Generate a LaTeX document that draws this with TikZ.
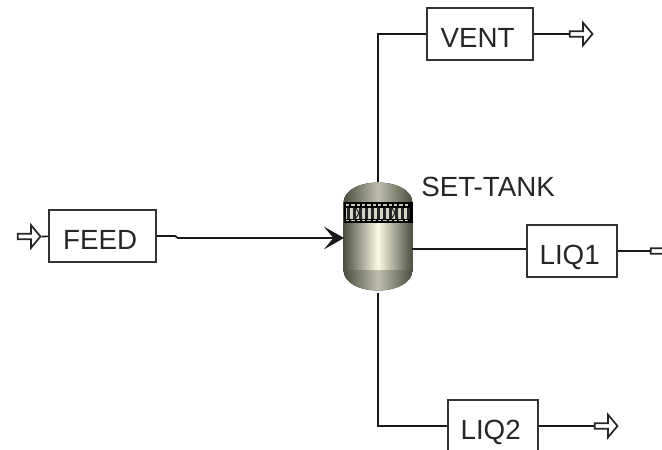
\documentclass[tikz,border=0pt]{standalone}
\usepackage{fontspec}
\setmainfont{Liberation Sans}
\usetikzlibrary{arrows.meta,shapes.arrows}
\definecolor{tankdark}{RGB}{78,78,62}
\definecolor{tanklight}{RGB}{250,250,230}

\begin{document}
\begin{tikzpicture}[
        x=0.75pt,
        y=-0.75pt,
        font=\fontsize{20.8}{24}\selectfont,
        label/.style={draw=black!80, line width=1.4pt, fill=white, inner sep=0pt, text=black!85,
            text height=20pt, text depth=0pt, execute at end node=\hspace{3.5pt}},
        stream/.style={black!90, line width=1.3pt},
        port/.style={single arrow, draw=black!85, line width=1.3pt, fill=white, inner sep=0pt,
            minimum width=17pt, minimum height=17pt, single arrow head extend=2pt, single arrow tip angle=100},
        shell/.style={left color=tankdark, right color=tankdark, middle color=tanklight, draw=none},
        dome/.style={left color=tankdark, right color=tankdark, middle color=tanklight!65!tankdark, draw=none}
    ]
        \useasboundingbox (0,0) rectangle (662,450);
        \clip (0,0) rectangle (662,450);

        \node[label, minimum width=80pt, minimum height=39pt] (feed) at (102.5,236) {FEED};
        \node[label, minimum width=79.5pt, minimum height=39pt] (vent) at (480,34) {VENT};
        \node[label, minimum width=67.5pt, minimum height=39pt] (liqa) at (572,251) {LIQ1};
        \node[label, minimum width=67.5pt, minimum height=39pt] (liqb) at (493,426) {LIQ2};
        \node[anchor=west, inner sep=0pt, text=black!85] (tanklabel) at (421,187) {SET-TANK};

        \node[port] (feedin) at (28,236.5) {};
        \node[port] (ventout) at (580,34) {};
        \node[port] (liqaout) at (661,251) {};
        \node[port] (liqbout) at (605,426) {};

        \node[minimum width=52pt, minimum height=80.5pt, inner sep=0pt] (tank) at (378,236.5) {};
        \fill[dome] (343.5,203) .. controls (343.5,190) and (360,182.5) .. (378,182.5)
            .. controls (396,182.5) and (412.5,190) .. (412.5,203) -- cycle;
        \fill[shell] (343.5,202) rectangle (412.5,271);
        \fill[dome] (343.5,270) .. controls (343.5,283) and (360,290.5) .. (378,290.5)
            .. controls (396,290.5) and (412.5,283) .. (412.5,270) -- cycle;
        \fill[black] (343.5,202) rectangle (412.5,223);
        \fill[tanklight!70!gray] (346,207.5) rectangle (410,218.5);
        \foreach \x in {347,353,...,407} {
            \fill[black!85] (\x,207.5) rectangle ++(2.5,11);
        }
        \draw[black!85, line width=0.8pt] (356,208) -- (362,218) (356,218) -- (362,208)
            (392,208) -- (398,218) (392,218) -- (398,208);
        \draw[tanklight!60!gray, line width=1pt, dash pattern=on 2.5pt off 1.5pt] (346,205) -- (410,205)
            (346,220.5) -- (410,220.5);

        \coordinate (feedjog) at (178,238);
        \coordinate (tanktop) at (378,182);
        \coordinate (tankbot) at (378,293);
        \coordinate (tankright) at (412,249);

        \draw[stream] (feedin) -- (feed);
        \draw[stream, -{Stealth[length=15pt,width=17pt,inset=7pt]}]
            (feed.east) -- (175,236) -- (feedjog) -- (344,238);
        \draw[stream] (tanktop) -- (378,34) -- (vent.west);
        \draw[stream] (vent.east) -- (ventout);
        \draw[stream] (tankright) -- (liqa.west |- tankright);
        \draw[stream] (liqa) -- (liqaout);
        \draw[stream] (tankbot) -- (378,426) -- (liqb.west);
        \draw[stream] (liqb.east) -- (liqbout);
    \end{tikzpicture}
\end{document}
